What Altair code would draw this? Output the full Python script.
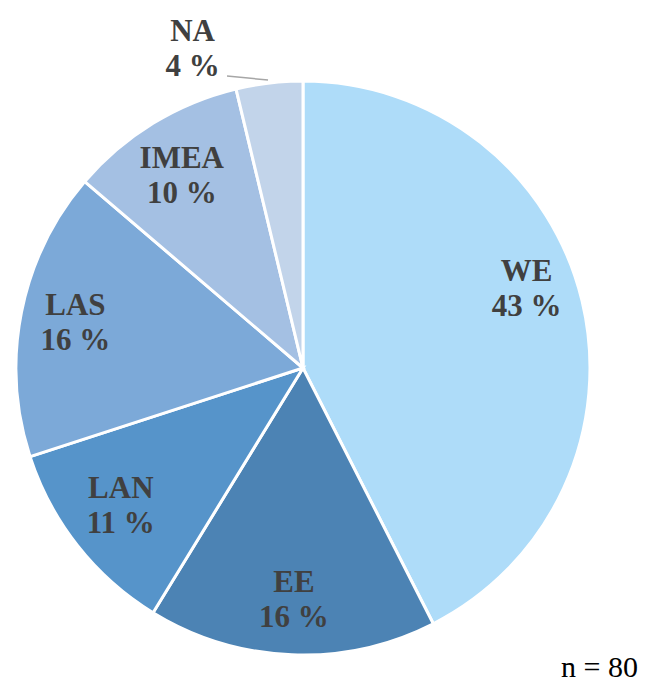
import altair as alt
import pandas as pd

regions = ["WE", "EE", "LAN", "LAS", "IMEA", "NA"]
counts = [34, 13, 9, 13, 8, 3]
percents = [43, 16, 11, 16, 10, 4]
colors = ["#AEDCF9", "#4C83B4", "#5694CA", "#7CA9D8", "#A4C0E3", "#C2D4EA"]
n_total = 80

df = pd.DataFrame({
    "region": regions,
    "count": counts,
    "order": list(range(len(regions))),
    "label": [f"{r}\n{p} %" for r, p in zip(regions, percents)],
})

CX, CY, R = 295, 360, 287

base = alt.Chart(df).encode(
    theta=alt.Theta("count:Q", stack=True),
    order=alt.Order("order:Q"),
    x=alt.value(CX),
    y=alt.value(CY),
)

arcs = base.mark_arc(radius=R, stroke="white", strokeWidth=3).encode(
    color=alt.Color("region:N", sort=regions,
                    scale=alt.Scale(domain=regions, range=colors), legend=None)
)

text_style = dict(font="Liberation Serif", fontSize=31, fontWeight="bold",
                  color="#404040", lineBreak="\n", lineHeight=35,
                  baseline="middle", align="center")


def label_layer(expr, **kw):
    return base.transform_calculate(
        t=f"({expr}) ? datum.label : ''"
    ).mark_text(**text_style, **kw).encode(text="t:N")


we_label = label_layer("datum.region == 'WE'", radius=232, dx=-2, dy=-42)
lower_labels = label_layer("datum.region == 'EE' || datum.region == 'LAS'", radius=232, dy=-17)
lan_label = label_layer("datum.region == 'LAN'", radius=232, dy=-23)
imea_label = label_layer("datum.region == 'IMEA'", radius=232, dy=-11)
na_label = label_layer("datum.region == 'NA'", radius=335, dx=-71, dy=-3)

leader = alt.Chart(pd.DataFrame({"a": [0]})).mark_rule(color="#A6A6A6", strokeWidth=1.5).encode(
    x=alt.value(219), y=alt.value(68), x2=alt.value(260), y2=alt.value(72)
)

note = alt.Chart(pd.DataFrame({"t": [f"n = {n_total}"]})).mark_text(
    font="Liberation Serif", fontSize=30, color="#000000", align="right", baseline="alphabetic"
).encode(text="t:N", x=alt.value(630), y=alt.value(669))

chart = alt.layer(arcs, we_label, lower_labels, lan_label, imea_label, na_label,
                  leader, note).properties(
    width=633, height=677, padding=0, autosize=alt.AutoSizeParams(type="none")
).configure_view(stroke=None)

chart.save("out.html", embed_options={"renderer": "svg", "actions": False})
